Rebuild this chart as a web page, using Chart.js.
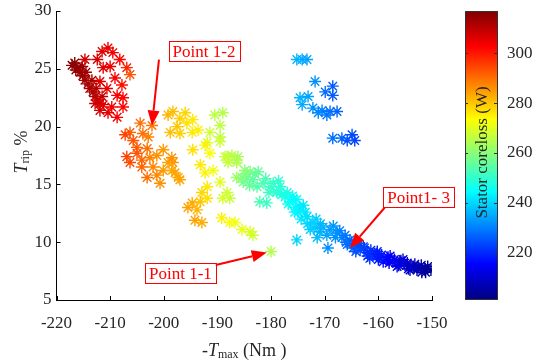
<!DOCTYPE html>
<html lang="en">
<head>
<meta charset="UTF-8">
<title>Stator coreloss vs torque</title>
<script src="https://cdn.jsdelivr.net/npm/chart.js"></script>
<style>
  html, body { margin: 0; padding: 0; background: #fff; }
</style>
</head>
<body>
<canvas id="coreChart" width="548" height="360"></canvas>
<script>
// -Tmax (Nm)
const tmax = [
  -217.1,-216.6,-216.0,-215.6,-216.4,-215.1,-214.7,-214.1,-213.8,-213.2,-212.8,-212.3,-211.9,-214.5,-215.2,-213.4,-212.6,-211.5,
  -214.7,-212.4,-211.5,-210.4,-209.5,-208.2,-206.9,-206.3,-211.3,-210.0,-211.9,-209.1,-207.8,-210.6,-208.7,-207.6,-212.8,-211.3,-209.7,-207.6,-210.4,-208.7,-211.9,
  -206.3,-204.4,-205.7,-207.2,-203.9,-202.9,-202.2,-205.0,-203.1,-206.9,-205.0,-204.1,-202.6,-201.3,-200.1,-202.0,-203.1,-200.7,-199.2,-200.1,-198.5,-197.3,-201.3,-206.3,-204.1,
  -199.2,-198.3,-197.0,-195.7,-197.5,-198.8,-197.0,-194.6,-193.6,-194.7,-196.0,
  -190.5,-189.0,-189.5,-191.4,-189.5,-191.9,-188.2,-186.4,
  -198.3,-197.9,-197.0,-198.5,
  -194.6,-192.3,-191.4,-193.2,-192.3,-190.8,
  -189.5,-188.6,-187.3,-186.2,-188.0,-186.4,-189.5,-188.2,-187.7,-189.0,
  -191.9,-192.9,-193.2,-191.9,-194.7,-195.5,-193.8,-194.2,-192.9,
  -189.2,-187.7,-186.7,-185.4,-183.9,-183.4,
  -185.4,-184.5,-183.4,-182.4,-181.5,-180.2,-179.6,-178.3,-178.9,-177.4,-176.5,-175.5,-175.0,-182.1,-180.8,-183.9,-186.4,-185.2,-184.9,
  -183.0,-181.0,-179.0,-182.6,-180.4,-178.6,-184.0,
  -180.0,-175.2,-169.4,
  -178.0,-176.8,-175.6,-174.4,-173.2,-172.0,-170.8,-176.0,-174.8,-173.6,-171.6,
  -177.0,-175.9,-174.6,-173.3,-172.2,-172.7,-171.4,-170.3,-169.0,-167.7,-166.8,-165.8,-164.7,-163.4,-162.1,-161.0,-159.7,-158.4,-157.3,-156.0,
  -154.7,-153.5,-152.6,-151.3,-150.2,-175.2,-174.0,-170.9,-165.3,-164.0,-161.6,-159.1,-156.5,-154.1,-151.9,-162.8,-160.2,-157.8,-155.4,
  -168.4,-167.2,-166.2,-165.0,-163.8,-162.6,-161.4,-160.4,-159.4,-158.2,-157.0,-155.8,-154.6,-153.2,-152.0,-150.8,
  -169.6,-168.0,-166.0,-164.2,-162.0,-160.0,-158.0,-156.2,-154.4,-152.8,-151.2,
  -175.2,-174.2,-173.3,-171.8,-168.5,-169.9,-168.5,-174.6,-173.1,-174.2,-172.2,-170.5,-169.0,-167.7,-171.2,-169.6,-168.5,-166.8,-164.9,-164.4,-165.8
];
// Trip (%)
const trip = [
  25.3,25.5,25.1,24.7,24.9,24.4,24.0,23.7,23.3,23.0,22.6,22.3,22.0,24.7,25.2,24.0,23.3,22.6,
  25.8,25.8,26.5,26.8,26.4,25.8,25.1,24.5,25.1,25.2,23.9,24.2,23.6,23.3,22.7,22.5,22.0,21.9,21.7,21.7,21.2,20.8,21.4,
  19.5,20.3,18.8,19.3,19.4,19.1,20.1,18.2,18.1,17.4,17.7,16.5,17.3,17.5,18.0,16.5,15.6,15.1,16.9,16.2,16.2,15.6,15.8,16.9,17.1,
  21.0,21.3,20.7,20.3,20.0,19.5,19.4,20.6,19.7,19.5,21.2,
  21.0,21.2,20.1,19.5,19.1,18.6,17.4,17.1,
  16.9,16.0,15.4,17.3,
  18.0,18.4,17.7,16.7,16.0,16.2,
  18.7,17.4,17.5,17.4,16.9,16.9,15.2,14.3,13.8,13.8,
  14.8,14.3,13.5,13.8,13.4,13.0,12.8,11.9,11.7,
  12.1,11.7,11.7,11.1,10.9,10.6,
  15.6,15.6,15.4,16.1,15.1,14.8,15.1,14.8,14.3,13.9,13.5,13.0,12.6,13.5,13.4,16.1,15.6,15.2,16.2,
  15.9,15.5,14.4,14.8,14.3,15.3,14.9,
  9.2,10.2,9.5,
  14.1,13.3,12.6,12.0,11.6,11.2,11.6,14.0,13.0,12.6,12.0,
  14.3,13.7,12.8,12.2,11.7,11.1,10.4,11.3,11.1,10.8,10.4,9.8,9.5,9.3,9.1,8.9,8.7,8.5,8.3,8.2,
  8.0,7.9,7.8,7.7,7.6,13.7,13.2,10.9,10.2,9.9,8.6,8.3,7.9,7.6,7.4,9.6,9.2,8.8,8.5,
  11.4,11.0,10.6,10.0,9.7,9.5,9.3,9.0,8.9,8.7,8.5,8.4,8.2,8.1,8.0,7.9,
  10.6,10.4,10.0,9.2,8.8,8.5,8.2,8.0,7.7,7.6,7.4,
  25.8,25.8,25.8,23.9,23.5,23.0,22.7,22.5,22.6,21.9,21.6,21.4,21.3,21.3,21.2,21.0,19.0,19.0,19.3,18.8,18.8
];
// Stator coreloss (W)
const coreloss = [
  316,316,315,314,315,314,313,313,312,312,311,310,309,313,314,312,311,309,
  308,307,306,305,304,302,299,293,306,304,306,303,301,305,303,302,308,306,304,302,305,303,307,
  292,290,293,295,290,288,289,292,290,295,293,291,288,286,285,287,290,286,284,285,283,283,287,294,291,
  282,281,279,277,280,281,279,276,275,276,278,
  266,265,266,268,266,269,264,262,
  285,284,284,286,
  277,275,273,276,275,272,
  268,268,266,264,267,265,270,268,267,269,
  276,278,280,277,283,284,282,284,283,
  275,273,272,271,270,268,
  258,257,255,256,253,251,251,249,249,247,245,243,242,253,251,259,262,258,260,
  256,253,250,254,251,250,256,
  265,240,232,
  248,246,244,242,240,238,236,246,244,242,239,
  247,245,243,241,239,239,237,236,234,232,230,228,226,224,222,220,218,216,214,212,
  210,208,206,204,202,244,242,236,229,227,221,217,213,209,205,223,219,215,211,
  233,231,229,226,224,223,221,219,218,216,214,212,210,208,206,204,
  234,232,228,225,221,218,215,212,209,207,204,
  236,235,234,232,226,228,226,236,234,235,232,230,228,227,231,229,228,227,224,223,225
];

const xTicks = [-220, -210, -200, -190, -180, -170, -160, -150];
const yTicks = [5, 10, 15, 20, 25, 30];
const cbTicks = [220, 240, 260, 280, 300];
const cbMin = 201, cbMax = 317;

// callouts: label centre, arrow tail and tip, all in data units
const notes = [
  { text: 'Point 1-2', at: [-192.5, 26.5], tail: [-200.9, 25.8], tip: [-202.2, 20.1] },
  { text: 'Point 1-1', at: [-196.9, 7.3], tail: [-190.5, 8.0], tip: [-180.8, 9.1] },
  { text: 'Point1- 3', at: [-152.5, 13.9], tail: [-158.8, 13.0], tip: [-165.3, 9.5] }
];

function jet(v) {
  const t = Math.min(1, Math.max(0, (v - cbMin) / (cbMax - cbMin)));
  const c = k => Math.round(255 * Math.min(1, Math.max(0, 1.5 - Math.abs(4 * t - k))));
  return 'rgb(' + c(3) + ',' + c(2) + ',' + c(1) + ')';
}

const serif = 'Liberation Serif, Times New Roman, serif';
const ink = '#262626';
const n = Math.min(tmax.length, trip.length, coreloss.length);
const points = [];
const colors = [];
for (let i = 0; i < n; i++) {
  points.push({ x: tmax[i], y: trip[i] });
  colors.push(jet(coreloss[i]));
}

function drawRich(ctx, parts, cx, cy) {
  let total = 0;
  parts.forEach(p => { ctx.font = p.font; p.w = ctx.measureText(p.t).width; total += p.w; });
  let x = cx - total / 2;
  parts.forEach(p => {
    ctx.font = p.font;
    ctx.fillText(p.t, x, cy + (p.dy || 0));
    x += p.w;
  });
}

function arrow(ctx, x1, y1, x2, y2) {
  const a = Math.atan2(y2 - y1, x2 - x1);
  const hl = 15, hw = 6;
  const bx = x2 - hl * Math.cos(a), by = y2 - hl * Math.sin(a);
  ctx.beginPath();
  ctx.moveTo(x1, y1);
  ctx.lineTo(bx, by);
  ctx.stroke();
  ctx.beginPath();
  ctx.moveTo(x2, y2);
  ctx.lineTo(bx + hw * Math.sin(a), by - hw * Math.cos(a));
  ctx.lineTo(bx - hw * Math.sin(a), by + hw * Math.cos(a));
  ctx.closePath();
  ctx.fill();
}

const decor = {
  id: 'decor',
  afterDraw(chart) {
    const ctx = chart.ctx;
    const xs = chart.scales.x, ys = chart.scales.y, cb = chart.scales.cb;
    const area = chart.chartArea;
    ctx.save();

    // inward tick marks
    ctx.strokeStyle = '#000';
    ctx.lineWidth = 1;
    ctx.beginPath();
    xTicks.forEach(v => {
      const px = Math.round(xs.getPixelForValue(v)) + 0.5;
      ctx.moveTo(px, area.bottom);
      ctx.lineTo(px, area.bottom - 4);
    });
    yTicks.forEach(v => {
      const py = Math.round(ys.getPixelForValue(v)) + 0.5;
      ctx.moveTo(area.left, py);
      ctx.lineTo(area.left + 4, py);
    });
    ctx.stroke();

    // colour bar
    const bx = cb.left + 33, bw = 33;
    const top = cb.getPixelForValue(cbMax), bottom = cb.getPixelForValue(cbMin);
    const grad = ctx.createLinearGradient(0, bottom, 0, top);
    for (let i = 0; i <= 64; i++) grad.addColorStop(i / 64, jet(cbMin + (cbMax - cbMin) * i / 64));
    ctx.fillStyle = grad;
    ctx.fillRect(bx, top, bw, bottom - top);
    ctx.strokeStyle = '#333';
    ctx.strokeRect(bx + 0.5, top + 0.5, bw - 1, bottom - top - 1);
    ctx.beginPath();
    cbTicks.forEach(v => {
      const py = Math.round(cb.getPixelForValue(v)) + 0.5;
      ctx.moveTo(bx + bw - 1, py);
      ctx.lineTo(bx + bw - 4, py);
      ctx.moveTo(bx, py);
      ctx.lineTo(bx + 3, py);
    });
    ctx.stroke();

    // colour bar label
    ctx.fillStyle = ink;
    ctx.textBaseline = 'middle';
    ctx.textAlign = 'left';
    ctx.save();
    ctx.translate(bx + bw / 2 + 1, (top + bottom) / 2 - 3);
    ctx.rotate(-Math.PI / 2);
    drawRich(ctx, [{ t: 'Stator coreloss (W)', font: '17px ' + serif }], 0, 0);
    ctx.restore();

    // axis titles
    drawRich(ctx, [
      { t: '-', font: '18px ' + serif },
      { t: 'T', font: 'italic 18px ' + serif },
      { t: 'max', font: '12px ' + serif, dy: 4 },
      { t: ' (Nm )', font: '18px ' + serif }
    ], (area.left + area.right) / 2 + 0, 351);
    ctx.save();
    ctx.translate(22, 152);
    ctx.rotate(-Math.PI / 2);
    drawRich(ctx, [
      { t: 'T', font: 'italic 18px ' + serif },
      { t: 'rip', font: '12px ' + serif, dy: 4 },
      { t: ' %', font: '18px ' + serif }
    ], 0, 0);
    ctx.restore();

    // callouts
    ctx.strokeStyle = '#ff0000';
    ctx.fillStyle = '#ff0000';
    ctx.lineWidth = 2;
    notes.forEach(nt => {
      arrow(ctx, xs.getPixelForValue(nt.tail[0]), ys.getPixelForValue(nt.tail[1]),
        xs.getPixelForValue(nt.tip[0]), ys.getPixelForValue(nt.tip[1]));
    });
    ctx.font = '17px ' + serif;
    notes.forEach(nt => {
      const cx = xs.getPixelForValue(nt.at[0]), cy = ys.getPixelForValue(nt.at[1]);
      const w = ctx.measureText(nt.text).width + 8, h = 20;
      ctx.fillStyle = '#fff';
      ctx.fillRect(cx - w / 2, cy - h / 2, w, h);
      ctx.lineWidth = 1;
      ctx.strokeStyle = '#ff0000';
      ctx.strokeRect(Math.round(cx - w / 2) + 0.5, Math.round(cy - h / 2) + 0.5, Math.round(w), h);
      ctx.fillStyle = '#ff0000';
      ctx.textAlign = 'center';
      ctx.fillText(nt.text, cx, cy + 1);
    });
    ctx.restore();
  }
};

// vertical axes: fixed width, no extra vertical padding from label heights
const fixWidth = w => s => { s.width = w; s.paddingTop = 0; s.paddingBottom = 0; };

const tickFont = { family: serif, size: 17 };
const ctx = document.getElementById('coreChart').getContext('2d');
new Chart(ctx, {
  type: 'scatter',
  data: {
    datasets: [{
      data: points,
      pointStyle: 'star',
      pointRadius: 6,
      pointBorderWidth: 1.4,
      pointBorderColor: colors,
      pointBackgroundColor: colors
    }]
  },
  options: {
    responsive: false,
    animation: false,
    events: [],
    layout: { padding: { top: 11, left: 0, right: 0, bottom: 0 } },
    plugins: { legend: { display: false }, tooltip: { enabled: false } },
    scales: {
      x: {
        type: 'linear', min: -220, max: -150,
        afterBuildTicks: s => { s.ticks = xTicks.map(v => ({ value: v })); },
        afterFit: s => { s.height = 60; },
        grid: { display: false, drawTicks: false },
        border: { color: '#000', width: 1 },
        ticks: { font: tickFont, color: ink, padding: 13, maxRotation: 0 }
      },
      y: {
        type: 'linear', min: 5, max: 30,
        afterBuildTicks: s => { s.ticks = yTicks.map(v => ({ value: v })); },
        afterFit: fixWidth(56.5),
        grid: { display: false, drawTicks: false },
        border: { color: '#000', width: 1 },
        ticks: { font: tickFont, color: ink, padding: 5 }
      },
      cb: {
        type: 'linear', position: 'right', min: cbMin, max: cbMax,
        afterBuildTicks: s => { s.ticks = cbTicks.map(v => ({ value: v })); },
        afterFit: fixWidth(116),
        grid: { display: false, drawTicks: false },
        border: { display: false },
        ticks: { font: tickFont, color: ink, padding: 75 }
      }
    }
  },
  plugins: [decor]
});
</script>
</body>
</html>
